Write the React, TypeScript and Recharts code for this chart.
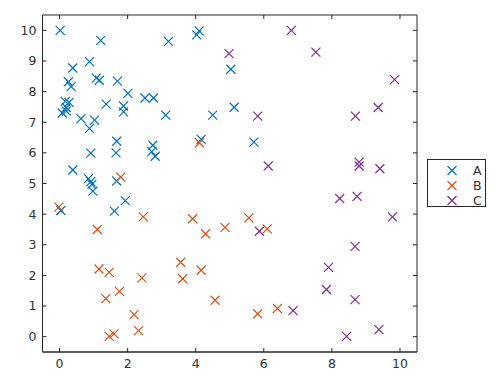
import React from 'react';
import { ScatterChart, Scatter, XAxis, YAxis, ReferenceArea, ReferenceLine } from 'recharts';

const seriesNames = ['A', 'B', 'C'];
const seriesColors = ['#0072BD', '#D95319', '#7E2F8E'];

const aX = [0.02, 1.21, 3.2, 4.03, 4.1, 0.88, 0.39, 5.03, 0.26, 0.34, 1.08, 1.17, 1.7, 2.01, 2.51, 2.76,
  0.17, 0.28, 0.2, 0.08, 0.2, 1.37, 1.88, 1.88, 3.12, 4.5, 5.13, 0.63, 1.03, 0.88, 4.16, 1.68,
  0.92, 1.66, 2.74, 2.71, 2.81, 0.39, 0.85, 0.92, 0.95, 0.98, 1.68, 1.93, 0.04, 1.61, 5.71];
const aY = [10.0, 9.67, 9.64, 9.85, 9.98, 8.98, 8.77, 8.73, 8.32, 8.16, 8.44, 8.37, 8.34, 7.94, 7.79, 7.79,
  7.68, 7.65, 7.48, 7.3, 7.36, 7.59, 7.53, 7.34, 7.23, 7.23, 7.49, 7.12, 7.07, 6.8, 6.44, 6.38,
  5.99, 6.0, 6.25, 6.04, 5.89, 5.44, 5.16, 5.06, 4.97, 4.75, 5.08, 4.44, 4.12, 4.1, 6.35];

const bX = [-0.02, 1.8, 4.11, 2.46, 1.11, 3.91, 4.29, 5.56, 4.86, 6.1, 1.16, 1.46, 3.56, 3.62, 4.16,
  2.42, 1.76, 1.36, 4.57, 2.19, 2.32, 1.46, 1.6, 5.82, 6.4];
const bY = [4.23, 5.21, 6.33, 3.91, 3.5, 3.85, 3.36, 3.88, 3.57, 3.52, 2.21, 2.1, 2.43, 1.89, 2.17,
  1.92, 1.48, 1.24, 1.19, 0.72, 0.2, 0.01, 0.09, 0.75, 0.92];

const cX = [6.81, 7.53, 4.98, 9.84, 5.82, 8.69, 9.36, 6.13, 8.8, 8.8, 9.41, 8.23, 8.74, 5.87, 6.86,
  9.78, 8.68, 7.9, 7.84, 8.68, 9.38, 8.43];
const cY = [10.0, 9.29, 9.24, 8.39, 7.2, 7.2, 7.48, 5.57, 5.7, 5.57, 5.48, 4.51, 4.58, 3.44, 0.85,
  3.91, 2.95, 2.26, 1.54, 1.21, 0.23, 0.01];

const xTicks = [0, 2, 4, 6, 8, 10];
const yTicks = [0, 1, 2, 3, 4, 5, 6, 7, 8, 9, 10];
const axisRange = [-0.5, 10.5];

const toPoints = (xs: number[], ys: number[]) => xs.map((x, i) => ({ x, y: ys[i] }));
const seriesData = [toPoints(aX, aY), toPoints(bX, bY), toPoints(cX, cY)];

const axisColor = '#262626';
const labelStyle = { fontSize: 12.5, fill: '#333', fontFamily: 'DejaVu Sans' };
// inward tick length on top/right edges, in data units (~4px)
const tickLenX = 0.12;
const tickLenY = 0.13;

const makeCross = (color: string) => (props: any) => {
  const { cx, cy } = props;
  const r = 4.5;
  return (
    <g stroke={color} strokeWidth={1.2}>
      <line x1={cx - r} y1={cy - r} x2={cx + r} y2={cy + r} />
      <line x1={cx - r} y1={cy + r} x2={cx + r} y2={cy - r} />
    </g>
  );
};

const LegendBox = () => (
  <div
    style={{
      position: 'absolute',
      left: 427,
      top: 159,
      width: 59,
      height: 48,
      border: '1px solid #262626',
      background: '#fff',
      boxSizing: 'border-box',
      fontFamily: 'DejaVu Sans',
      fontSize: 12.5,
      color: '#333',
    }}
  >
    {seriesNames.map((name, i) => (
      <div key={name} style={{ position: 'absolute', left: 0, top: 3 + i * 15, height: 15, width: '100%' }}>
        <svg width={30} height={15} style={{ position: 'absolute', left: 16, top: 0 }}>
          <g stroke={seriesColors[i]} strokeWidth={1.2}>
            <line x1={3.5} y1={3} x2={12.5} y2={12} />
            <line x1={3.5} y1={12} x2={12.5} y2={3} />
          </g>
        </svg>
        <span style={{ position: 'absolute', left: 45, top: 0, lineHeight: '15px' }}>{name}</span>
      </div>
    ))}
  </div>
);

export default function App() {
  const [lo, hi] = axisRange;
  return (
    <div style={{ position: 'absolute', left: 0, top: 0, width: 502, height: 381, background: '#fff' }}>
      <ScatterChart width={502} height={381} margin={{ top: 15, right: 85, bottom: 0, left: 0 }}>
        <XAxis
          type="number"
          dataKey="x"
          domain={axisRange}
          ticks={xTicks}
          allowDataOverflow
          height={29}
          stroke={axisColor}
          tickSize={-4}
          tickMargin={11}
          tick={labelStyle}
        />
        <YAxis
          type="number"
          dataKey="y"
          domain={axisRange}
          ticks={yTicks}
          allowDataOverflow
          width={42.5}
          stroke={axisColor}
          tickSize={-4}
          tickMargin={10}
          tick={labelStyle}
        />
        <ReferenceArea
          x1={lo}
          x2={hi}
          y1={lo}
          y2={hi}
          fill="none"
          stroke={axisColor}
          strokeWidth={1}
          ifOverflow="visible"
        />
        {xTicks.map((t) => (
          <ReferenceLine
            key={`xt${t}`}
            segment={[{ x: t, y: hi }, { x: t, y: hi - tickLenY }]}
            stroke={axisColor}
            ifOverflow="visible"
          />
        ))}
        {yTicks.map((t) => (
          <ReferenceLine
            key={`yt${t}`}
            segment={[{ x: hi, y: t }, { x: hi - tickLenX, y: t }]}
            stroke={axisColor}
            ifOverflow="visible"
          />
        ))}
        {seriesData.map((data, i) => (
          <Scatter
            key={seriesNames[i]}
            name={seriesNames[i]}
            data={data}
            fill={seriesColors[i]}
            shape={makeCross(seriesColors[i])}
            isAnimationActive={false}
          />
        ))}
      </ScatterChart>
      <LegendBox />
    </div>
  );
}
